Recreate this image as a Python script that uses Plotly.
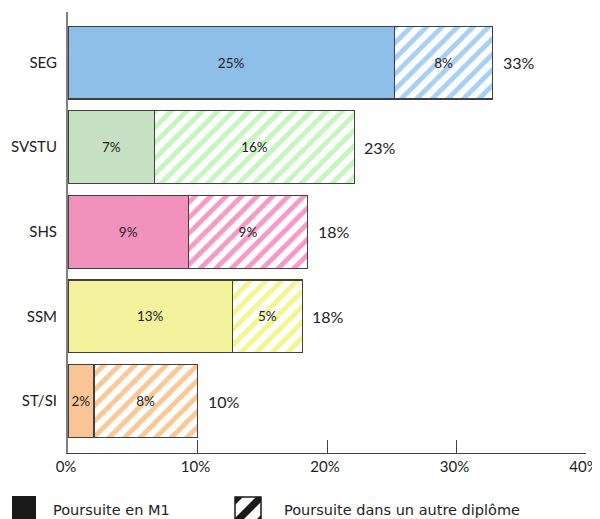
import plotly.graph_objects as go

categories = ["SEG", "SVSTU", "SHS", "SSM", "ST/SI"]
m1_values = [25.2, 6.7, 9.3, 12.7, 2.0]
other_values = [7.6, 15.4, 9.2, 5.4, 8.0]
m1_labels = ["25%", "7%", "9%", "13%", "2%"]
other_labels = ["8%", "16%", "9%", "5%", "8%"]
total_labels = ["33%", "23%", "18%", "18%", "10%"]
solid_colors = ["#8DBEE8", "#C5E1C1", "#F192BD", "#F3F19B", "#FAC596"]
stripe_colors = ["#A6D0F5", "#C6F5C0", "#F59AC8", "#F5F590", "#FAC896"]
x_ticks = [0, 10, 20, 30, 40]
x_tick_labels = ["0%", "10%", "20%", "30%", "40%"]
legend_names = ["Poursuite en M1", "Poursuite dans un autre diplôme"]

FONT = "Lato"
LEG_FONT = "DejaVu Sans"
W, H = 600, 519
OFF = 8  # page body margin offset
# target screen positions of plot area
SL, SR, ST, SB = 68, 586, 12, 453
L = SL - OFF
R = W - (SR - OFF)
T = ST - OFF
B = H - (SB - OFF)
pw, ph = W - L - R, H - T - B

def px_x(p):
    # screen x -> paper
    return (p - OFF - L) / pw

def px_y(p):
    return (H - B - (p - OFF)) / ph

fig = go.Figure()
fig.add_trace(go.Bar(
    y=categories, x=m1_values, orientation="h",
    marker=dict(color=solid_colors, line=dict(color="#404040", width=1.2)),
    text=m1_labels, textposition="inside", insidetextanchor="middle",
    constraintext="none",
    textfont=dict(family=FONT, size=13.5, color="#222222"),
    showlegend=False, hoverinfo="skip", cliponaxis=False,
))
fig.add_trace(go.Bar(
    y=categories, x=other_values, orientation="h",
    marker=dict(color="white", line=dict(color="#404040", width=1.2),
                pattern=dict(shape="/", fgcolor=stripe_colors, bgcolor="white",
                             size=11, solidity=0.45, fillmode="replace")),
    text=other_labels, textposition="inside", insidetextanchor="middle",
    constraintext="none",
    textfont=dict(family=FONT, size=13.5, color="#222222"),
    showlegend=False, hoverinfo="skip", cliponaxis=False,
))

for c, a, b, lab in zip(categories, m1_values, other_values, total_labels):
    fig.add_annotation(x=a + b, y=c, text=lab, showarrow=False, xanchor="left",
                       xshift=8, font=dict(family=FONT, size=16, color="#222222"))

# legend drawn manually
shapes = []
shapes.append(dict(type="rect", xref="paper", yref="paper",
                   x0=px_x(12), x1=px_x(36), y0=px_y(496), y1=px_y(522),
                   fillcolor="#1a1a1a", line=dict(width=0)))
hx0, hx1, hy0, hy1 = 235, 261, 497, 523
shapes.append(dict(type="rect", xref="paper", yref="paper",
                   x0=px_x(hx0), x1=px_x(hx1), y0=px_y(hy0), y1=px_y(hy1),
                   fillcolor="white", line=dict(color="#1a1a1a", width=1.5)))

def poly(pts):
    d = "M " + " L ".join(f"{px_x(a):.5f},{px_y(b):.5f}" for a, b in pts) + " Z"
    return dict(type="path", xref="paper", yref="paper", path=d,
                fillcolor="#1a1a1a", line=dict(width=0))

shapes.append(poly([(hx0, hy1), (hx0 + 5, hy1), (hx1, hy0 + 5), (hx1, hy0), (hx1 - 5, hy0), (hx0, hy1 - 5)]))
shapes.append(poly([(hx0, hy0), (hx0 + 8, hy0), (hx0, hy0 + 8)]))
shapes.append(poly([(hx1, hy1), (hx1 - 8, hy1), (hx1, hy1 - 8)]))

fig.add_annotation(xref="paper", yref="paper", x=px_x(51), y=px_y(510), text=legend_names[0],
                   showarrow=False, xanchor="left", yanchor="middle",
                   font=dict(family=LEG_FONT, size=14.5, color="#222222"))
fig.add_annotation(xref="paper", yref="paper", x=px_x(282), y=px_y(510), text=legend_names[1],
                   showarrow=False, xanchor="left", yanchor="middle",
                   font=dict(family=LEG_FONT, size=14.5, color="#222222"))

fig.update_layout(
    width=W, height=H, margin=dict(l=L, r=R, t=T, b=B, autoexpand=False),
    barmode="stack", bargap=0.14,
    paper_bgcolor="white", plot_bgcolor="white",
    showlegend=False, shapes=shapes,
    font=dict(family=FONT, size=14, color="#222222"),
    xaxis=dict(range=[0, 40], tickvals=x_ticks, ticktext=x_tick_labels,
               automargin=False,
               showgrid=False, zeroline=False, showline=True, linecolor="#404040",
               linewidth=1.2, ticks="inside", ticklen=13, tickcolor="#404040",
               tickwidth=1.2, ticklabelshift=-2,
               tickfont=dict(family=FONT, size=15, color="#222222")),
    yaxis=dict(categoryorder="array", categoryarray=categories,
               automargin=False,
               range=[4.614, -0.598], showgrid=False, zeroline=False,
               showline=True, linecolor="#808080", linewidth=2, ticks="",
               ticklabelstandoff=6,
               tickfont=dict(family=FONT, size=15, color="#222222")),
)

fig.write_html("out.html")
